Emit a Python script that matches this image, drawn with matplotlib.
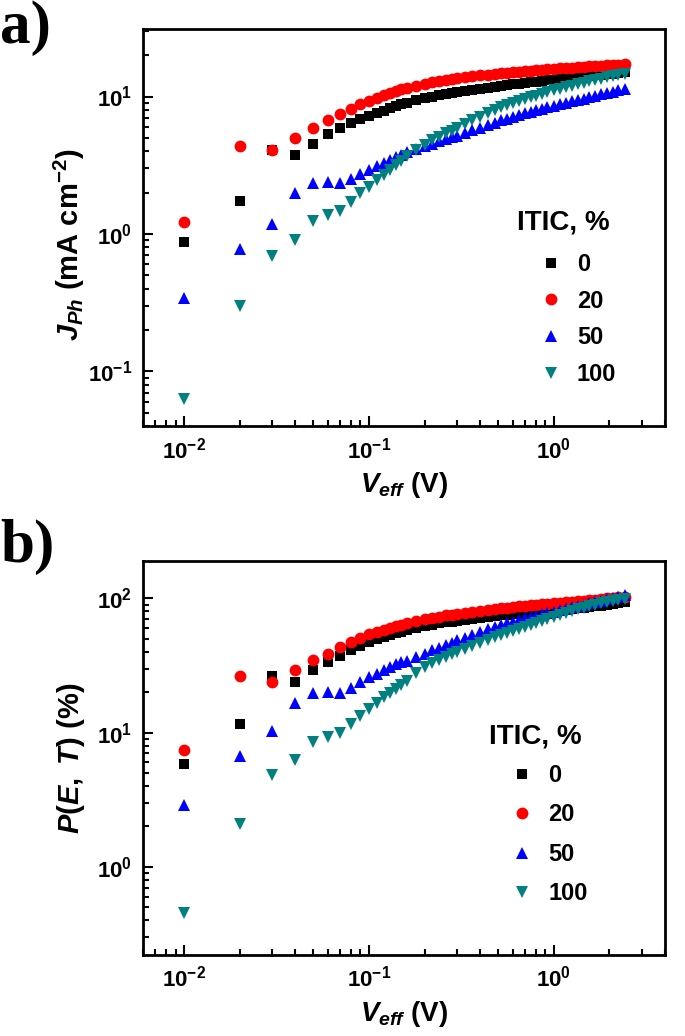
import matplotlib
matplotlib.use('Agg')
import matplotlib.pyplot as plt
from matplotlib.ticker import LogLocator, NullFormatter

plt.rcParams['font.family'] = ['Liberation Sans', 'DejaVu Sans']
plt.rcParams['font.weight'] = 'bold'
plt.rcParams['mathtext.fontset'] = 'custom'
plt.rcParams['mathtext.rm'] = 'Liberation Sans:bold'
plt.rcParams['mathtext.it'] = 'Liberation Sans:bold:italic'
plt.rcParams['mathtext.bf'] = 'Liberation Sans:bold'
plt.rcParams['mathtext.default'] = 'regular'
plt.rcParams['axes.unicode_minus'] = False

# effective voltage (V), same for every series
v_eff = [0.01, 0.02, 0.03, 0.04, 0.05, 0.06, 0.07, 0.08, 0.09, 0.10,
         0.11, 0.12, 0.13, 0.14, 0.15, 0.16, 0.18, 0.20, 0.22, 0.24,
         0.26, 0.28, 0.30, 0.33, 0.36, 0.40, 0.44, 0.48, 0.52, 0.56,
         0.60, 0.65, 0.70, 0.75, 0.80, 0.86, 0.92, 1.00, 1.08, 1.16,
         1.25, 1.35, 1.45, 1.56, 1.68, 1.80, 1.94, 2.08, 2.24, 2.42]

itic_labels = ['0', '20', '50', '100']

# a) photocurrent density J_ph (mA cm^-2)
jph_0 = [0.87, 1.75, 4.1, 3.75, 4.5, 5.3, 5.9, 6.4, 6.9, 7.2,
         7.6, 7.9, 8.2, 8.5, 8.75, 9.0, 9.4, 9.7, 10.0, 10.2,
         10.4, 10.6, 10.75, 11.0, 11.2, 11.4, 11.6, 11.8, 12.0, 12.1,
         12.25, 12.4, 12.55, 12.7, 12.85, 13.0, 13.1, 13.3, 13.4, 13.55,
         13.7, 13.85, 14.0, 14.1, 14.25, 14.4, 14.55, 14.7, 14.85, 15.0]
jph_20 = [1.22, 4.35, 4.05, 4.95, 5.9, 6.7, 7.4, 8.1, 8.75, 9.35,
          9.8, 10.2, 10.6, 11.0, 11.3, 11.6, 12.0, 12.4, 12.7, 13.0,
          13.2, 13.4, 13.6, 13.85, 14.05, 14.25, 14.45, 14.6, 14.75, 14.9,
          15.0, 15.15, 15.3, 15.4, 15.5, 15.65, 15.75, 15.9, 16.0, 16.1,
          16.2, 16.35, 16.45, 16.55, 16.65, 16.75, 16.85, 16.95, 17.05, 17.15]
jph_50 = [0.34, 0.78, 1.18, 2.0, 2.35, 2.38, 2.35, 2.5, 2.75, 2.93,
          3.1, 3.28, 3.45, 3.6, 3.77, 3.92, 4.15, 4.35, 4.55, 4.73,
          4.9, 5.05, 5.2, 5.45, 5.68, 5.95, 6.2, 6.45, 6.7, 6.9,
          7.1, 7.35, 7.55, 7.75, 7.95, 8.15, 8.35, 8.6, 8.8, 9.0,
          9.2, 9.45, 9.65, 9.85, 10.1, 10.35, 10.6, 10.85, 11.1, 11.4]
jph_100 = [0.063, 0.30, 0.69, 0.90, 1.24, 1.38, 1.47, 1.72, 1.98, 2.21,
           2.45, 2.69, 2.93, 3.15, 3.42, 3.67, 4.1, 4.47, 4.8, 5.1,
           5.4, 5.65, 5.9, 6.3, 6.7, 7.15, 7.6, 8.0, 8.35, 8.65,
           8.95, 9.3, 9.6, 9.9, 10.15, 10.45, 10.75, 11.1, 11.4, 11.7,
           12.0, 12.3, 12.6, 12.9, 13.2, 13.5, 13.8, 14.1, 14.4, 14.7]

# b) dissociation probability P(E, T) (%)
p_0 = [5.8, 11.5, 26.5, 24.0, 29.5, 33.5, 37.5, 41.3, 44.5, 47.2,
       49.5, 51.5, 53.3, 55.0, 56.4, 57.7, 60.0, 62.0, 63.6, 65.0,
       66.2, 67.2, 68.0, 69.3, 70.4, 71.7, 72.8, 73.8, 74.6, 75.4,
       76.1, 76.9, 77.6, 78.3, 78.9, 79.6, 80.3, 81.2, 82.0, 82.8,
       83.6, 84.5, 85.4, 86.4, 87.4, 88.4, 89.6, 90.8, 92.0, 93.5]
p_20 = [7.4, 26.2, 24.0, 29.4, 34.9, 38.7, 43.3, 47.5, 50.9, 53.9,
        56.3, 58.4, 60.2, 62.0, 63.6, 65.0, 67.5, 69.7, 71.6, 73.2,
        74.6, 75.8, 76.9, 78.4, 79.7, 81.2, 82.5, 83.6, 84.6, 85.5,
        86.3, 87.3, 88.1, 88.9, 89.6, 90.4, 91.2, 92.2, 93.0, 93.8,
        94.6, 95.5, 96.3, 97.2, 98.1, 99.0, 100.0, 101.0, 102.0, 103.2]
p_50 = [2.9, 6.7, 10.2, 16.6, 19.6, 20.1, 19.8, 21.5, 24.0, 25.8,
        27.5, 29.1, 30.7, 32.2, 33.3, 34.4, 36.6, 38.7, 40.9, 43.0,
        45.0, 46.9, 48.6, 51.0, 53.3, 56.2, 58.8, 61.1, 63.2, 65.1,
        66.9, 69.0, 70.9, 72.6, 74.2, 76.0, 77.7, 79.8, 81.8, 83.7,
        85.7, 87.8, 89.8, 91.8, 94.0, 96.0, 98.3, 100.5, 102.8, 105.2]
p_100 = [0.45, 2.1, 4.8, 6.2, 8.5, 9.3, 10.0, 11.6, 13.4, 15.0,
         16.7, 18.3, 19.8, 21.2, 22.8, 24.4, 27.6, 30.7, 33.0, 35.0,
         36.8, 38.5, 40.0, 42.2, 44.2, 46.7, 49.0, 51.2, 53.3, 55.3,
         57.2, 59.5, 61.7, 63.8, 65.8, 68.1, 70.3, 73.0, 75.5, 77.8,
         80.2, 82.7, 85.0, 87.4, 89.8, 92.0, 94.2, 96.0, 97.5, 98.8]

colors = ['black', '#ff0000', '#0000ff', '#008080']
markers = ['s', 'o', '^', 'v']
msizes = [7.5, 8.5, 9, 9]

fig = plt.figure(figsize=(6.85, 10.36), dpi=100)
ax1 = fig.add_axes([0.2088, 0.5888, 0.7620, 0.3832])
ax2 = fig.add_axes([0.2088, 0.0782, 0.7620, 0.3803])


def style_axis(ax):
    ax.set_xscale('log')
    ax.set_yscale('log')
    ax.set_xlim(0.006, 4)
    for sp in ax.spines.values():
        sp.set_linewidth(2)
    ax.tick_params(which='both', direction='in', top=False, right=False,
                   width=1.5, labelsize=16, pad=8)
    ax.tick_params(which='major', length=7)
    ax.tick_params(which='minor', length=4)
    ax.xaxis.set_minor_locator(LogLocator(base=10, subs=range(2, 10), numticks=20))
    ax.yaxis.set_minor_locator(LogLocator(base=10, subs=range(2, 10), numticks=20))
    ax.xaxis.set_minor_formatter(NullFormatter())
    ax.yaxis.set_minor_formatter(NullFormatter())
    ax.set_xlabel(r'$\mathit{V_{eff}}$ (V)', fontsize=20, fontweight='bold', labelpad=5)


def draw_panel(ax, series, title_xy, leg_xy, spacing):
    for y, c, m, s, lab in zip(series, colors, markers, msizes, itic_labels):
        ax.plot(v_eff, y, linestyle='none', marker=m, color=c, markersize=s,
                markeredgewidth=0, label=lab)
    ax.text(title_xy[0], title_xy[1], 'ITIC, %', transform=ax.transAxes,
            fontsize=20, fontweight='bold', ha='left', va='center')
    ax.legend(loc='upper left', bbox_to_anchor=leg_xy, frameon=False,
              numpoints=1, handlelength=1.0, handletextpad=0.6,
              labelspacing=spacing, borderpad=0, borderaxespad=0,
              prop={'size': 17, 'weight': 'bold'})


style_axis(ax1)
ax1.set_ylim(0.04, 31)
draw_panel(ax1, [jph_0, jph_20, jph_50, jph_100], (0.717, 0.512), (0.759, 0.436), 0.58)
ax1.set_ylabel(r'$\mathit{J_{Ph}}$ (mA cm$^{-2}$)', fontsize=21, fontweight='bold')
ax1.yaxis.set_label_coords(-0.107, 0.456)

style_axis(ax2)
ax2.set_ylim(0.22, 190)
draw_panel(ax2, [p_0, p_20, p_50, p_100], (0.662, 0.555), (0.704, 0.485), 0.7)
ax2.set_ylabel(r'$\mathit{P(E,}$ $\mathit{T)}$ (%)', fontsize=21, fontweight='bold')
ax2.yaxis.set_label_coords(-0.107, 0.5)

fig.text(0.0, 1.0, 'a)', fontsize=44, fontweight='bold', family='Liberation Serif',
         ha='left', va='top')
fig.text(0.0, 0.499, 'b)', fontsize=44, fontweight='bold', family='Liberation Serif',
         ha='left', va='top')

fig.savefig('out.png', dpi=100)
